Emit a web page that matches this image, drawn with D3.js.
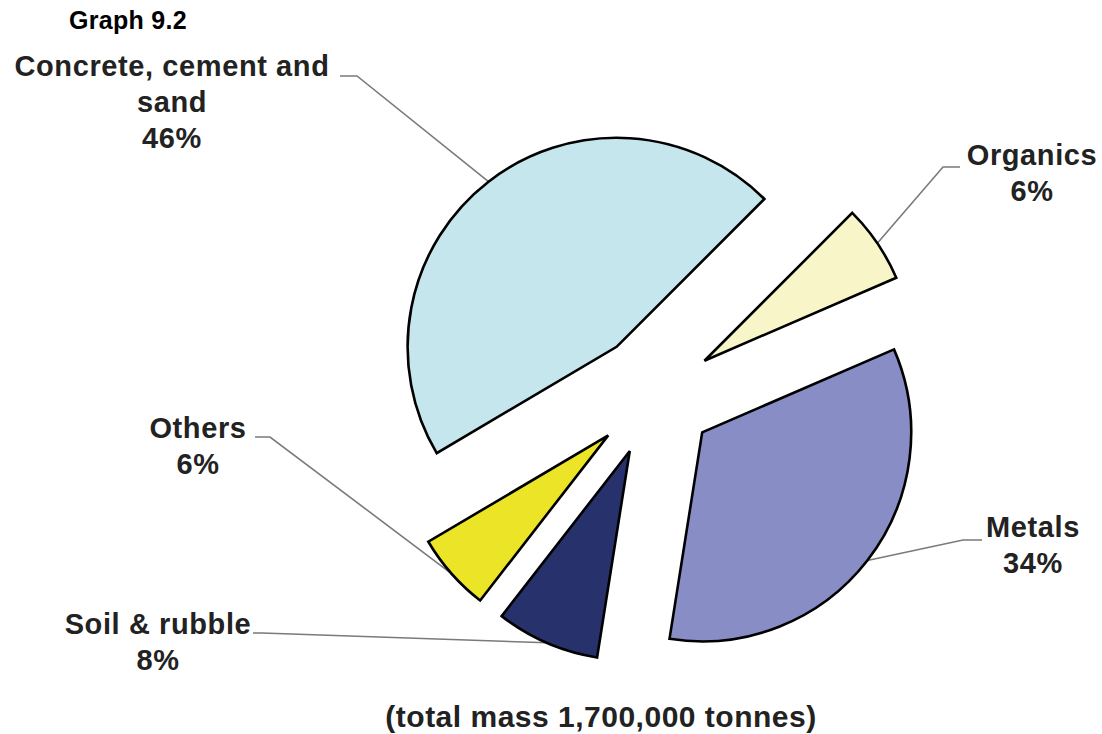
<!DOCTYPE html>
<html>
<head>
<meta charset="utf-8">
<script src="https://cdn.jsdelivr.net/npm/d3@7"></script>
<style>
  html, body { margin: 0; padding: 0; background: #fff; }
  svg { display: block; }
  text { font-family: "Liberation Sans", Arial, sans-serif; font-weight: bold; fill: #222; }
</style>
</head>
<body>
<svg id="chart" width="1102" height="734"></svg>
<script>
// Composition of the waste stream, percent of total mass
const categories = ["Organics", "Metals", "Soil & rubble", "Others", "Concrete, cement and sand"];
const shares = [6, 34, 8, 6, 46];
const labelLines = [
  ["Organics", "6%"],
  ["Metals", "34%"],
  ["Soil & rubble", "8%"],
  ["Others", "6%"],
  ["Concrete, cement and", "sand", "46%"]
];
const chartTitle = "Graph 9.2";
const footnote = "(total mass 1,700,000 tonnes)";

// Styling and layout
const fills = ["#F8F6C9", "#898DC5", "#27316B", "#ECE527", "#C5E6EC"];
const center = [654, 395];
const radius = 209;
const explode = 61;
const lineGap = 36;
// label anchor (centre x, first baseline) and leader elbow points
const labelLayout = [
  { x: 1032, y: 165, leader: [[960, 167], [943, 167]] },
  { x: 1033, y: 537, leader: [[982, 540], [963, 540]] },
  { x: 158,  y: 634, leader: [[253, 633], [262, 633]] },
  { x: 198,  y: 438, leader: [[255, 437], [270, 437]] },
  { x: 172,  y: 76,  leader: [[340, 76], [357, 76]] }
];

const svg = d3.select("#chart");

const pie = d3.pie()
  .sort(null)
  .value(d => d)
  .startAngle(45 * Math.PI / 180)
  .endAngle(405 * Math.PI / 180);
const arcs = pie(shares);

const arc = d3.arc().innerRadius(0).outerRadius(radius);
const rim = d3.arc().innerRadius(radius).outerRadius(radius);

// radial shift of each slice along its mid-angle
function shift(d) {
  const a = (d.startAngle + d.endAngle) / 2;
  return [center[0] + explode * Math.sin(a), center[1] - explode * Math.cos(a)];
}

// Leader lines (drawn beneath the slices)
const line = d3.line();
svg.append("g").selectAll("path")
  .data(arcs)
  .join("path")
  .attr("d", (d, i) => {
    const o = shift(d);
    const c = rim.centroid(d);
    const pts = labelLayout[i].leader.concat([[o[0] + c[0], o[1] + c[1]]]);
    return line(pts);
  })
  .attr("fill", "none")
  .attr("stroke", "#7a7a7a")
  .attr("stroke-width", 1.6);

// Slices
svg.append("g").selectAll("path")
  .data(arcs)
  .join("path")
  .attr("transform", d => `translate(${shift(d)})`)
  .attr("d", arc)
  .attr("fill", (d, i) => fills[i])
  .attr("stroke", "#000")
  .attr("stroke-width", 2.6)
  .attr("stroke-linejoin", "miter");

// Category labels
const labels = svg.append("g").selectAll("text")
  .data(arcs)
  .join("text")
  .attr("text-anchor", "middle")
  .attr("font-size", 29)
  .attr("letter-spacing", 0.6)
  .attr("x", (d, i) => labelLayout[i].x)
  .attr("y", (d, i) => labelLayout[i].y);
labels.each(function (d, i) {
  d3.select(this).selectAll("tspan")
    .data(labelLines[i])
    .join("tspan")
    .attr("x", labelLayout[i].x)
    .attr("dy", (t, j) => j === 0 ? 0 : lineGap)
    .text(t => t);
});

svg.append("text")
  .attr("x", 128).attr("y", 29)
  .attr("text-anchor", "middle")
  .attr("font-size", 25)
  .attr("letter-spacing", 0.3)
  .style("fill", "#000")
  .text(chartTitle);

svg.append("text")
  .attr("x", 601).attr("y", 727)
  .attr("text-anchor", "middle")
  .attr("font-size", 30)
  .attr("letter-spacing", 0.5)
  .text(footnote);
</script>
</body>
</html>
